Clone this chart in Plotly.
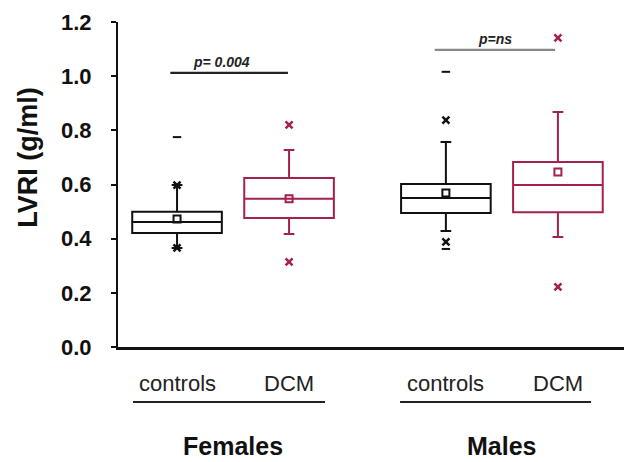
import plotly.graph_objects as go

# ---- data ----
groups = ["Females", "Males"]
categories = ["controls", "DCM", "controls", "DCM"]
box_x = [1.0, 2.0, 3.4, 4.4]
colors = ["#111111", "#a3214a", "#111111", "#a3214a"]

q1 = [0.421, 0.476, 0.495, 0.498]
median = [0.462, 0.547, 0.550, 0.598]
q3 = [0.499, 0.624, 0.602, 0.683]
lower_whisker = [0.366, 0.417, 0.428, 0.406]
upper_whisker = [0.598, 0.727, 0.757, 0.868]
means = [0.473, 0.547, 0.569, 0.646]
x_marks = [[0.598, 0.366], [0.820, 0.314], [0.838, 0.388], [1.141, 0.222]]
dash_marks = [[0.775], [], [1.016, 0.362], []]

p_labels = ["p= 0.004", "p=ns"]
p_level = [1.012, 1.097]

y_ticks = [0.0, 0.2, 0.4, 0.6, 0.8, 1.0, 1.2]

FONT = "Liberation Sans, Arial, sans-serif"

fig = go.Figure()

for i in range(4):
    c = colors[i]
    fig.add_trace(go.Box(
        x=[box_x[i]], q1=[q1[i]], median=[median[i]], q3=[q3[i]],
        lowerfence=[lower_whisker[i]], upperfence=[upper_whisker[i]],
        width=0.8, whiskerwidth=0.12, boxpoints=False,
        line=dict(color=c, width=2), fillcolor="rgba(0,0,0,0)",
        showlegend=False, hoverinfo="skip"))
    fig.add_trace(go.Scatter(
        x=[box_x[i]], y=[means[i]], mode="markers",
        marker=dict(symbol="square-open", size=7, color=c, line=dict(width=2, color=c)),
        showlegend=False, hoverinfo="skip"))
    fig.add_trace(go.Scatter(
        x=[box_x[i]] * len(x_marks[i]), y=x_marks[i], mode="markers",
        marker=dict(symbol="x-thin-open", size=7, color=c, line=dict(width=2.5, color=c)),
        showlegend=False, hoverinfo="skip"))
    if dash_marks[i]:
        fig.add_trace(go.Scatter(
            x=[box_x[i]] * len(dash_marks[i]), y=dash_marks[i], mode="markers",
            marker=dict(symbol="line-ew-open", size=6, color=c, line=dict(width=2, color=c)),
            showlegend=False, hoverinfo="skip"))

# p-value brackets
p_spans = [(0.94, 1.99), (3.30, 4.375)]
p_colors = ["#222222", "#888888"]
p_text_x = [1.40, 3.84]
for k in range(2):
    x0, x1 = p_spans[k]
    fig.add_shape(type="line", xref="x", yref="y", x0=x0, x1=x1,
                  y0=p_level[k], y1=p_level[k],
                  line=dict(color=p_colors[k], width=2.2))
    fig.add_annotation(x=p_text_x[k], y=p_level[k], xref="x", yref="y",
                       text="<b><i>" + p_labels[k] + "</i></b>", showarrow=False,
                       yanchor="bottom", yshift=1,
                       font=dict(family=FONT, size=14, color="#222222"))

# category labels
for i in range(4):
    fig.add_annotation(x=box_x[i], y=-0.111, xref="x", yref="paper",
                       text=categories[i], showarrow=False, yanchor="middle",
                       font=dict(family=FONT, size=22, color="#222222"))

group_spans = [(0.607, 2.321), (2.991, 4.696)]
group_x = [1.5, 3.9]
for g in range(2):
    x0, x1 = group_spans[g]
    fig.add_shape(type="line", xref="x", yref="paper", x0=x0, x1=x1,
                  y0=-0.169, y1=-0.169, line=dict(color="#222222", width=2))
    fig.add_annotation(x=group_x[g], y=-0.305, xref="x", yref="paper",
                       text="<b>" + groups[g] + "</b>", showarrow=False,
                       yanchor="middle",
                       font=dict(family=FONT, size=25, color="#111111"))

# y-axis title
fig.add_annotation(x=-0.178, y=0.582, xref="paper", yref="paper",
                   text="<b>LVRI (g/ml)</b>", textangle=-90, showarrow=False,
                   xanchor="center", yanchor="middle",
                   font=dict(family=FONT, size=27, color="#111111"))

fig.update_layout(
    width=624, height=462,
    margin=dict(l=118, r=0, t=22, b=115),
    paper_bgcolor="white", plot_bgcolor="white",
    showlegend=False,
    xaxis=dict(range=[0.473, 4.99], showticklabels=False, ticks="",
               showgrid=False, zeroline=False, showline=True,
               linecolor="#111111", linewidth=2.5),
    yaxis=dict(range=[0, 1.2], tickvals=y_ticks, tickformat=".1f",
               ticks="outside", ticklen=5, tickwidth=2, tickcolor="#111111",
               showgrid=False, zeroline=False, showline=True,
               linecolor="#111111", linewidth=2, ticklabelstandoff=15,
               tickfont=dict(family=FONT, size=22, color="#111111", weight="bold")),
)

fig.write_html("out.html", config={"displayModeBar": False},
               post_script="document.body.style.margin='0';document.body.style.overflow='hidden';")
